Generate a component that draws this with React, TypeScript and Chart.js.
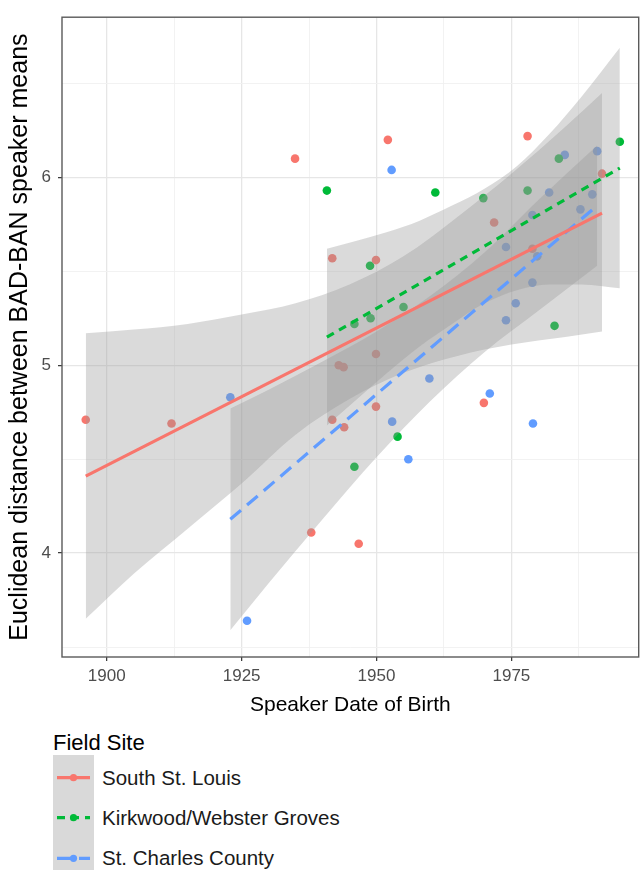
import React, { useEffect, useRef } from 'react';
import { Chart, registerables } from 'chart.js';

Chart.register(...registerables);

const FONT = '"Liberation Sans", Arial, Helvetica, sans-serif';

// ---- axis ranges and ticks ----
const X_MIN = 1891.7;
const X_MAX = 1998.6;
const Y_MIN = 3.447;
const Y_MAX = 6.853;
const xGridValues = [1900, 1912.5, 1925, 1937.5, 1950, 1962.5, 1975, 1987.5];
const xTickLabels = [1900, 1925, 1950, 1975];
const yGridValues = [3.5, 4, 4.5, 5, 5.5, 6, 6.5];
const yTickLabels = [4, 5, 6];

// ---- series names / colours ----
const siteNames = ['South St. Louis', 'Kirkwood/Webster Groves', 'St. Charles County'];
const siteColors = ['#F8766D', '#00BA38', '#619CFF'];

// ---- speaker points ----
const southYear = [1896.1, 1912.0, 1934.9, 1937.9, 1941.8, 1941.8, 1943.0, 1943.9, 1944.0, 1946.7, 1949.9, 1949.9, 1949.9, 1952.1, 1969.9, 1971.8, 1978.0, 1978.9, 1991.8];
const southValue = [4.71, 4.69, 6.10, 4.11, 5.57, 4.71, 5.00, 4.99, 4.67, 4.05, 5.56, 5.06, 4.78, 6.20, 4.80, 5.76, 6.22, 5.62, 6.02];

const kirkYear = [1940.8, 1945.9, 1945.9, 1948.8, 1948.9, 1953.9, 1955.0, 1960.9, 1969.8, 1978.0, 1983.0, 1983.8, 1995.1];
const kirkValue = [5.93, 5.22, 4.46, 5.53, 5.25, 4.62, 5.31, 5.92, 5.89, 5.93, 5.21, 6.10, 6.19];

const charlesYear = [1922.9, 1926.0, 1952.8, 1952.9, 1955.9, 1959.8, 1971.0, 1974.0, 1974.0, 1975.8, 1978.9, 1978.9, 1979.0, 1979.8, 1982.0, 1984.9, 1987.8, 1990.0, 1990.9];
const charlesValue = [4.83, 3.64, 6.04, 4.70, 4.50, 4.93, 4.85, 5.63, 5.24, 5.33, 5.80, 5.44, 4.69, 5.58, 5.92, 6.12, 5.83, 5.91, 6.14];

// ---- fitted lines ----
const southFitYear = [1896.1, 1991.8];
const southFitValue = [4.41, 5.81];
const kirkFitYear = [1940.8, 1995.1];
const kirkFitValue = [5.15, 6.05];
const charlesFitYear = [1922.9, 1990.9];
const charlesFitValue = [4.18, 5.85];

// ---- confidence bands ----
const southBandYear = [1896.1, 1905, 1915, 1925, 1935, 1945, 1955, 1965, 1975, 1985, 1991.8];
const southBandUpper = [5.17, 5.19, 5.22, 5.27, 5.33, 5.43, 5.58, 5.79, 6.02, 6.27, 6.45];
const southBandLower = [3.65, 3.89, 4.13, 4.37, 4.63, 4.82, 4.96, 5.05, 5.11, 5.15, 5.18];

const kirkBandYear = [1940.8, 1946, 1952, 1958, 1964, 1970, 1976, 1982, 1988, 1995.1];
const kirkBandUpper = [5.62, 5.66, 5.71, 5.77, 5.85, 5.94, 6.06, 6.23, 6.43, 6.69];
const kirkBandLower = [4.68, 4.81, 4.96, 5.10, 5.22, 5.33, 5.40, 5.43, 5.43, 5.41];

const charlesBandYear = [1922.9, 1930, 1940, 1950, 1960, 1970, 1980, 1990.9];
const charlesBandUpper = [4.77, 4.87, 5.02, 5.18, 5.37, 5.60, 5.88, 6.17];
const charlesBandLower = [3.59, 3.84, 4.18, 4.51, 4.81, 5.07, 5.29, 5.53];

const BAND_FILL = 'rgba(153,153,153,0.36)';
const NONE = 'rgba(0,0,0,0)';
const MAJOR_GRID = '#E6E6E6';
const MINOR_GRID = '#F1F1F1';

const pts = (xs: number[], ys: number[]) => xs.map((x, i) => ({ x, y: ys[i] }));

const panelBorder = {
  id: 'panelBorder',
  afterDatasetsDraw(chart: any) {
    const { ctx, chartArea: a } = chart;
    ctx.save();
    ctx.strokeStyle = '#5a5a5a';
    ctx.lineWidth = 1.4;
    ctx.strokeRect(a.left, a.top, a.right - a.left, a.bottom - a.top);
    ctx.restore();
  },
};

function fitLine(xs: number[], ys: number[], color: string, dash: number[]) {
  return {
    data: pts(xs, ys),
    borderColor: color,
    borderWidth: 3.2,
    borderDash: dash,
    borderCapStyle: 'butt',
    pointRadius: 0,
    fill: false,
    order: 0,
  };
}

function bandEdge(xs: number[], ys: number[], fill: any) {
  return {
    data: pts(xs, ys),
    borderColor: NONE,
    borderWidth: 0,
    pointRadius: 0,
    cubicInterpolationMode: 'monotone',
    fill,
    backgroundColor: BAND_FILL,
    order: 1,
  };
}

function scatter(xs: number[], ys: number[], color: string) {
  return {
    data: pts(xs, ys),
    showLine: false,
    pointRadius: 4.3,
    pointBorderWidth: 0,
    pointBackgroundColor: color,
    borderColor: color,
    fill: false,
    order: 2,
  };
}

export default function App() {
  const ref = useRef<HTMLCanvasElement>(null);

  useEffect(() => {
    const canvas = ref.current;
    if (!canvas) return;
    const chart = new Chart(canvas, {
      type: 'line',
      data: {
        datasets: [
          fitLine(southFitYear, southFitValue, siteColors[0], []),
          fitLine(kirkFitYear, kirkFitValue, siteColors[1], [8, 6]),
          fitLine(charlesFitYear, charlesFitValue, siteColors[2], [14, 8]),
          bandEdge(southBandYear, southBandUpper, '+1'),
          bandEdge(southBandYear, southBandLower, false),
          bandEdge(kirkBandYear, kirkBandUpper, '+1'),
          bandEdge(kirkBandYear, kirkBandLower, false),
          bandEdge(charlesBandYear, charlesBandUpper, '+1'),
          bandEdge(charlesBandYear, charlesBandLower, false),
          scatter(southYear, southValue, siteColors[0]),
          scatter(kirkYear, kirkValue, siteColors[1]),
          scatter(charlesYear, charlesValue, siteColors[2]),
        ] as any,
      },
      options: {
        responsive: false,
        animation: false,
        events: [],
        layout: { padding: { top: 6, right: 3, left: 0, bottom: 0 } },
        plugins: { legend: { display: false }, tooltip: { enabled: false } },
        scales: {
          x: {
            type: 'linear',
            min: X_MIN,
            max: X_MAX,
            afterBuildTicks: (axis: any) => {
              axis.ticks = xGridValues.map((v) => ({ value: v }));
            },
            afterFit: (axis: any) => {
              axis.height = 73;
            },
            ticks: {
              autoSkip: false,
              maxRotation: 0,
              padding: 5,
              color: '#4D4D4D',
              font: { family: FONT, size: 17 },
              callback: (v: any) => (xTickLabels.includes(Number(v)) ? String(v) : ''),
            },
            grid: {
              color: (c: any) => (xTickLabels.includes(c.tick?.value) ? MAJOR_GRID : MINOR_GRID),
              lineWidth: (c: any) => (xTickLabels.includes(c.tick?.value) ? 1.3 : 0.9),
              tickLength: 4,
              tickWidth: 1.2,
              tickColor: (c: any) => (xTickLabels.includes(c.tick?.value) ? '#333333' : NONE),
            },
            border: { display: false },
            title: {
              display: true,
              text: 'Speaker Date of Birth',
              color: '#000',
              font: { family: FONT, size: 21 },
              padding: { top: 0, bottom: 12 },
            },
          },
          y: {
            type: 'linear',
            min: Y_MIN,
            max: Y_MAX,
            afterBuildTicks: (axis: any) => {
              axis.ticks = yGridValues.map((v) => ({ value: v }));
            },
            afterFit: (axis: any) => {
              axis.width = 62;
            },
            ticks: {
              autoSkip: false,
              padding: 7,
              color: '#4D4D4D',
              font: { family: FONT, size: 17 },
              callback: (v: any) => (yTickLabels.includes(Number(v)) ? String(v) : ''),
            },
            grid: {
              color: (c: any) => (yTickLabels.includes(c.tick?.value) ? MAJOR_GRID : MINOR_GRID),
              lineWidth: (c: any) => (yTickLabels.includes(c.tick?.value) ? 1.3 : 0.9),
              tickLength: 4,
              tickWidth: 1.2,
              tickColor: (c: any) => (yTickLabels.includes(c.tick?.value) ? '#333333' : NONE),
            },
            border: { display: false },
            title: {
              display: true,
              text: 'Euclidean distance between BAD-BAN speaker means',
              color: '#000',
              font: { family: FONT, size: 25 },
              padding: { top: 5, bottom: 0 },
            },
          },
        },
      } as any,
      plugins: [panelBorder],
    });
    return () => chart.destroy();
  }, []);

  const rowY = [22.7, 62.7, 103.3];
  const dashes = ['', '8 6', '14 8'];

  return (
    <div
      style={{
        position: 'absolute',
        left: 0,
        top: 0,
        width: 643,
        height: 870,
        background: '#fff',
        overflow: 'hidden',
        fontFamily: FONT,
      }}
    >
      <canvas ref={ref} width={643} height={730} style={{ position: 'absolute', left: 0, top: 0 }} />
      <div style={{ position: 'absolute', left: 53, top: 730, fontSize: 22, lineHeight: '26px', color: '#000', whiteSpace: 'nowrap' }}>
        Field Site
      </div>
      <svg style={{ position: 'absolute', left: 53, top: 755 }} width={41} height={120}>
        <rect x={0} y={0} width={41} height={120} fill="#D9D9D9" />
        {siteNames.map((n, i) => (
          <g key={n}>
            <line x1={4} x2={37} y1={rowY[i]} y2={rowY[i]} stroke={siteColors[i]} strokeWidth={3.2} strokeDasharray={dashes[i] || undefined} />
            <circle cx={20.5} cy={rowY[i]} r={3.6} fill={siteColors[i]} />
          </g>
        ))}
      </svg>
      {siteNames.map((n, i) => (
        <div
          key={n}
          style={{
            position: 'absolute',
            left: 102,
            top: 755 + rowY[i] - 12,
            fontSize: 20.5,
            lineHeight: '24px',
            color: '#1A1A1A',
            whiteSpace: 'nowrap',
          }}
        >
          {n}
        </div>
      ))}
    </div>
  );
}
